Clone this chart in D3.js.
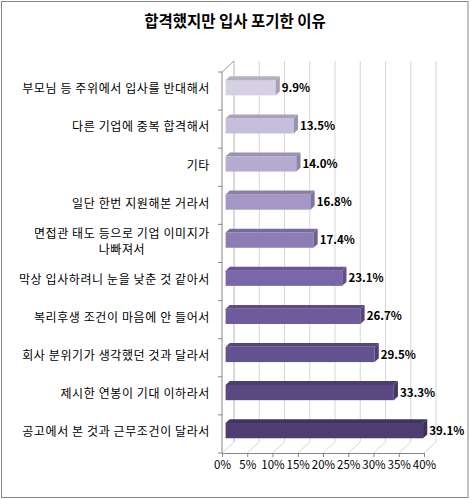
<!doctype html>
<html>
<head>
<meta charset="UTF-8">
<title>합격했지만 입사 포기한 이유</title>
<script src="https://d3js.org/d3.v7.min.js"></script>
<style>
  body { margin: 0; background: #fff; }
  text { font-family: "Noto Sans CJK KR", sans-serif; }
</style>
</head>
<body>
<script>
// data
var categories = [
  "부모님 등 주위에서 입사를 반대해서",
  "다른 기업에 중복 합격해서",
  "기타",
  "일단 한번 지원해본 거라서",
  "면접관 태도 등으로 기업 이미지가\n나빠져서",
  "막상 입사하려니 눈을 낮춘 것 같아서",
  "복리후생 조건이 마음에 안 들어서",
  "회사 분위기가 생각했던 것과 달라서",
  "제시한 연봉이 기대 이하라서",
  "공고에서 본 것과 근무조건이 달라서"
];
var values = [9.9, 13.5, 14.0, 16.8, 17.4, 23.1, 26.7, 29.5, 33.3, 39.1];
var colors = ["#d5d0e3", "#c6bedb", "#b6abd1", "#a496c5", "#8d7db6",
              "#7a66a8", "#6e5a9c", "#645190", "#5a4883", "#4d3d70"];
var ticks = [0, 5, 10, 15, 20, 25, 30, 35, 40];

var W = 470, H = 500;
var plotL = 222, plotT = 72, plotB = 453, plotW = 202;
var depth = {dx: 12, dy: -11};   // 3d offset of back wall
var f0 = 0.3, f1 = 0.65;         // bar depth inside the box

var svg = d3.select("body").append("svg")
  .attr("width", W).attr("height", H);

// chart border
svg.append("rect")
  .attr("x", 1.5).attr("y", 1.5)
  .attr("width", W - 3.5).attr("height", H - 4)
  .attr("fill", "#fff").attr("stroke", "#868686");

svg.append("text")
  .attr("x", 235).attr("y", 27)
  .attr("text-anchor", "middle")
  .attr("font-size", 15.5).attr("font-weight", "bold")
  .text("합격했지만 입사 포기한 이유");

var x = d3.scaleLinear().domain([0, 40]).range([0, plotW]);
var y = d3.scaleBand().domain(categories).range([plotT, plotB]);

// back wall gridlines + floor diagonals
var grid = svg.append("g");
ticks.forEach(function(t) {
  var px = plotL + x(t);
  grid.append("line")
    .attr("x1", px + depth.dx).attr("y1", plotB + depth.dy)
    .attr("x2", px + depth.dx).attr("y2", plotT + depth.dy)
    .attr("stroke", t == 0 ? "#b4b4b4" : "#d6d6d6");
  grid.append("line")
    .attr("x1", px).attr("y1", plotB)
    .attr("x2", px + depth.dx).attr("y2", plotB + depth.dy)
    .attr("stroke", "#d6d6d6");
});
grid.append("line")
  .attr("x1", plotL).attr("y1", plotT)
  .attr("x2", plotL + depth.dx).attr("y2", plotT + depth.dy)
  .attr("stroke", "#9a9a9a");

// bars
var bh = y.bandwidth() * 0.4;
var bdx = (f1 - f0) * depth.dx, bdy = (f1 - f0) * depth.dy;
var x0 = plotL + f0 * depth.dx;

function shade(c, k) { return d3.color(c).darker(k).formatHex(); }

var bars = svg.append("g").selectAll("g")
  .data(categories)
  .enter().append("g");

bars.each(function(c, i) {
  var g = d3.select(this);
  var yc = y(c) + y.bandwidth() / 2 + f0 * depth.dy;
  var yt = yc - bh / 2, yb = yc + bh / 2;
  var x1 = x0 + x(values[i]);
  g.append("rect")
    .attr("x", x0).attr("y", yt)
    .attr("width", x1 - x0).attr("height", bh)
    .attr("fill", colors[i]);
  g.append("polygon")
    .attr("points", [[x0, yt], [x0 + bdx, yt + bdy], [x1 + bdx, yt + bdy], [x1, yt]].join(" "))
    .attr("fill", shade(colors[i], 0.45));
  g.append("polygon")
    .attr("points", [[x1, yt], [x1 + bdx, yt + bdy], [x1 + bdx, yb + bdy], [x1, yb]].join(" "))
    .attr("fill", shade(colors[i], 0.7));
  g.append("text")
    .attr("x", x1 + bdx + 2).attr("y", yc)
    .attr("dy", "0.36em")
    .attr("font-size", 11.5).attr("font-weight", "bold")
    .text(values[i].toFixed(1) + "%");
});

// category axis
var yaxis = svg.append("g");
yaxis.append("line")
  .attr("x1", plotL).attr("y1", plotT).attr("x2", plotL).attr("y2", plotB)
  .attr("stroke", "#868686");
categories.concat([null]).forEach(function(c) {
  var py = c == null ? plotB : y(c);
  yaxis.append("line")
    .attr("x1", plotL - 4).attr("x2", plotL).attr("y1", py).attr("y2", py)
    .attr("stroke", "#868686");
});

categories.forEach(function(c) {
  var lines = c.split("\n");
  var yc = y(c) + y.bandwidth() / 2 - 2;
  var t = yaxis.append("text")
    .attr("font-size", 12).attr("letter-spacing", 0.6)
    .attr("text-anchor", "end");
  if (lines.length == 1) {
    t.attr("x", 210).attr("y", yc).attr("dy", "0.36em").text(c);
  } else {
    t.attr("x", 210).attr("y", yc - 8).attr("dy", "0.36em").text(lines[0]);
    var w = t.node().getComputedTextLength();
    yaxis.append("text")
      .attr("font-size", 12).attr("letter-spacing", 0.6)
      .attr("text-anchor", "middle")
      .attr("x", 210 - w / 2).attr("y", yc + 8).attr("dy", "0.36em")
      .text(lines[1]);
  }
});

// value axis
var xaxis = svg.append("g")
  .attr("transform", "translate(" + plotL + "," + plotB + ")")
  .call(d3.axisBottom(x).tickValues(ticks).tickSize(4).tickSizeOuter(0)
    .tickFormat(function(d) { return d + "%"; }));
xaxis.select(".domain").attr("stroke", "#868686");
xaxis.selectAll(".tick line").attr("stroke", "#868686");
xaxis.selectAll(".tick text")
  .attr("font-family", "Noto Sans CJK KR, sans-serif")
  .attr("font-size", 11.5).attr("fill", "#000")
  .attr("y", 8);
</script>
</body>
</html>
